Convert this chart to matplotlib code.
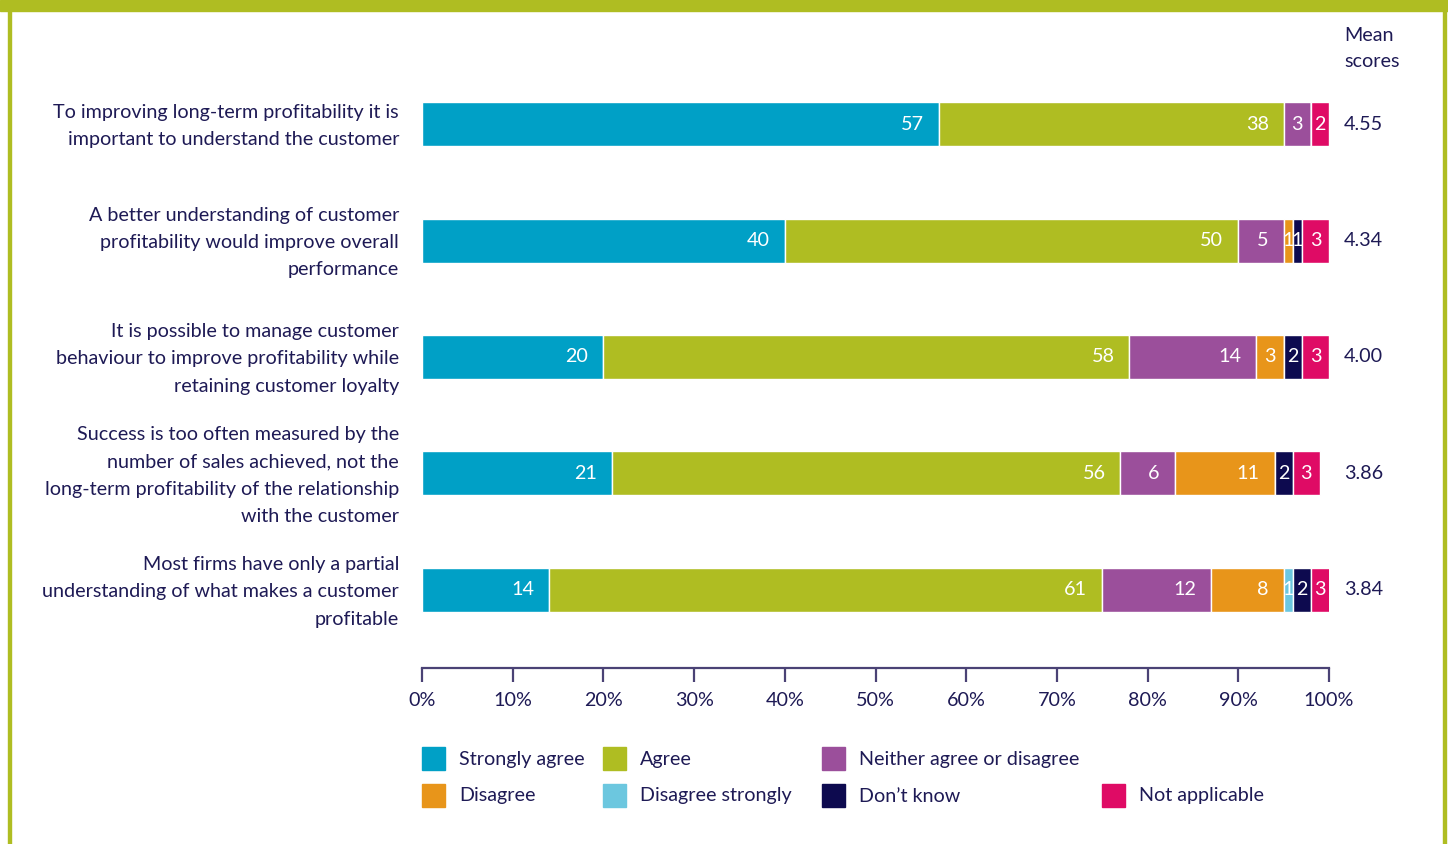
import matplotlib
matplotlib.use("Agg")
import matplotlib.pyplot as plt
from matplotlib.patches import Rectangle
import numpy as np

plt.rcParams['font.family'] = ['Lato', 'DejaVu Sans']

statements = [
    "To improving long-term profitability it is\nimportant to understand the customer",
    "A better understanding of customer\nprofitability would improve overall\nperformance",
    "It is possible to manage customer\nbehaviour to improve profitability while\nretaining customer loyalty",
    "Success is too often measured by the\nnumber of sales achieved, not the\nlong-term profitability of the relationship\nwith the customer",
    "Most firms have only a partial\nunderstanding of what makes a customer\nprofitable",
]
mean_scores = ["4.55", "4.34", "4.00", "3.86", "3.84"]

responses = ["Strongly agree", "Agree", "Neither agree or disagree", "Disagree",
             "Disagree strongly", "Don\u2019t know", "Not applicable"]
strongly_agree = [57, 40, 20, 21, 14]
agree = [38, 50, 58, 56, 61]
neither = [3, 5, 14, 6, 12]
disagree = [0, 1, 3, 11, 8]
disagree_strongly = [0, 0, 0, 0, 1]
dont_know = [0, 1, 2, 2, 2]
not_applicable = [2, 3, 3, 3, 3]

xticks = [0, 10, 20, 30, 40, 50, 60, 70, 80, 90, 100]

colors = ["#00a0c6", "#afbd22", "#9b4f9b", "#e8951a", "#6cc7df", "#0d0a4f", "#df0b65"]
TEXT = "#1e1a55"
AXIS = "#4a4275"
FRAME = "#afbd22"

series = [strongly_agree, agree, neither, disagree, disagree_strongly, dont_know, not_applicable]

W, H = 1448, 844
fig = plt.figure(figsize=(W / 100, H / 100), dpi=100)
fig.patch.set_facecolor("white")

# frame: top band and side rules
fig.patches.append(Rectangle((0, 1 - 11 / H), 1, 11 / H, transform=fig.transFigure,
                             color=FRAME, zorder=0))
fig.patches.append(Rectangle((8 / W, 0), 2.5 / W, 1, transform=fig.transFigure,
                             color=FRAME, zorder=0))
fig.patches.append(Rectangle((1443 / W, 0), 2.5 / W, 1, transform=fig.transFigure,
                             color=FRAME, zorder=0))

ax_left, ax_right = 422, 1329
ax_top, ax_bottom = 46, 668
ax = fig.add_axes([ax_left / W, 1 - ax_bottom / H,
                   (ax_right - ax_left) / W, (ax_bottom - ax_top) / H])

n = len(statements)
y = np.arange(n)
bar_h = 0.378
px_per_unit = (ax_right - ax_left) / 100.0
XMAX = 100

left = np.zeros(n)
for vals, col in zip(series, colors):
    vals = np.array(vals, dtype=float)
    ax.barh(y, vals, left=left, height=bar_h, color=col, edgecolor="white",
            linewidth=1.0, zorder=2)
    for i, v in enumerate(vals):
        if v <= 0:
            continue
        end = min(left[i] + v, XMAX)
        if v >= 5:
            ax.text(end - 15 / px_per_unit, y[i], f"{int(v)}", ha="right", va="center",
                    color="white", fontsize=14.2, zorder=3)
        else:
            ax.text((left[i] + end) / 2, y[i], f"{int(v)}", ha="center", va="center",
                    color="white", fontsize=14.2, zorder=3)
    left += vals

ax.set_xlim(0, XMAX)
ax.set_ylim(n - 1 + 0.67, -0.67)
ax.set_yticks([])
for s in ["top", "right", "left"]:
    ax.spines[s].set_visible(False)
ax.spines["bottom"].set_color(AXIS)
ax.spines["bottom"].set_linewidth(1.6)
ax.set_xticks(xticks)
ax.set_xticklabels([f"{t}%" for t in xticks])
ax.tick_params(axis="x", direction="out", length=10, width=1.6, color=AXIS,
               labelcolor=TEXT, labelsize=14.2, pad=7)
ax.set_facecolor("none")

# statement labels and mean scores
for i, (s, m) in enumerate(zip(statements, mean_scores)):
    ax.annotate(s, xy=(0, y[i]), xycoords=("axes fraction", "data"),
                xytext=(-23, -2), textcoords="offset pixels", ha="right", va="center",
                color=TEXT, fontsize=14.2, linespacing=1.72, annotation_clip=False)
    ax.annotate(m, xy=(1, y[i]), xycoords=("axes fraction", "data"),
                xytext=(15, 0), textcoords="offset pixels", ha="left", va="center",
                color=TEXT, fontsize=14.2, annotation_clip=False)

fig.text(1344 / W, 1 - 48.5 / H, "Mean\nscores", ha="left", va="center",
         color=TEXT, fontsize=14.2, linespacing=1.6)

# legend
legend_pos = [(422, 758), (603, 758), (822, 758), (422, 795), (603, 795),
              (822, 795), (1102, 795)]
sq = 23
for (lx, ly), lab, col in zip(legend_pos, responses, colors):
    fig.patches.append(Rectangle((lx / W, 1 - (ly + sq / 2) / H), sq / W, sq / H,
                                 transform=fig.transFigure, color=col))
    fig.text((lx + 37) / W, 1 - (ly + 1) / H, lab, ha="left", va="center",
             color=TEXT, fontsize=14.2)

fig.savefig("out.png", dpi=100)
